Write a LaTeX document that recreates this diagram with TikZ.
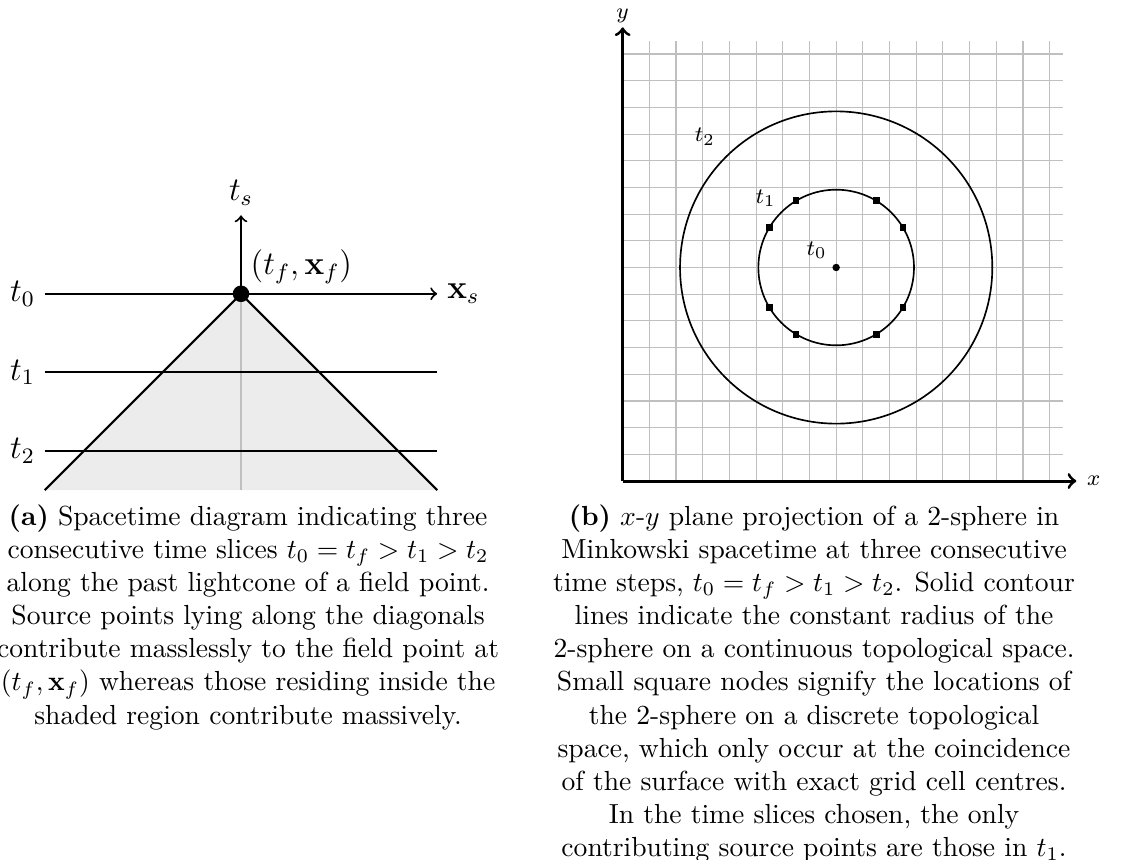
\documentclass[tikz,border=0pt]{standalone}
\usetikzlibrary{positioning}
\tikzset{
  slice/.style={line width=0.75pt},
  biglabel/.style={font=\large},
  smalllabel/.style={font=\footnotesize},
  cellpt/.style={fill, rectangle, inner sep=0pt, minimum size=2.4pt},
  captext/.style={align=center, inner sep=0pt, anchor=north},
}
\begin{document}
\begin{tikzpicture}
  \useasboundingbox (0,0) rectangle (14.306,10.943);
  % (a) lightcone
  \begin{scope}[shift={(3.07,7.2)}]
    \coordinate (fp) at (0,0);
    \coordinate (bl) at (-2.5,-2.5);
    \coordinate (br) at (2.5,-2.5);
    \coordinate (bc) at (0,-2.5);
    \coordinate (tstip) at (0,1);
    \fill[gray!15] (fp) -- (bl) -- (br) -- cycle;
    \draw[gray!50, line width=0.7pt] (fp) -- (bc);
    \foreach \i in {0,1,2} {
      \coordinate (sl\i) at (-2.5,-\i);
      \coordinate (sr\i) at (2.5,-\i);
      \node[biglabel, left] (lab\i) at (sl\i) {$t_\i$};
    }
    \draw[slice,->] (sl0) -- (sr0) node[biglabel, right] (xs) {$\mathbf{x}_s$};
    \draw[slice] (sl1) -- (sr1);
    \draw[slice] (sl2) -- (sr2);
    \draw[slice] (bl) -- (fp) -- (br);
    \draw[slice,->] (fp) -- (tstip) node[biglabel, above] (ts) {$t_s$};
    \node[fill, circle, inner sep=0pt, minimum size=6pt] (fpdot) at (fp) {};
    \node[biglabel, above right=0pt and 0pt of fp] (fplab) {$(t_f, \mathbf{x}_f)$};
  \end{scope}
  % (b) x-y projection
  \begin{scope}[shift={(7.932,4.815)}, x=0.34cm, y=0.34cm]
    \foreach \g in {1,...,16} {
      \draw[gray!50] (\g,0) -- (\g,16.5);
      \draw[gray!50] (0,\g) -- (16.5,\g);
    }
    \coordinate (org) at (0,0);
    \coordinate (xtip) at (17,0);
    \coordinate (ytip) at (0,17);
    \draw[line width=1.1pt,->] (org) -- (xtip) node[smalllabel, right] (xlab) {$x$};
    \draw[line width=1.1pt,->] (org) -- (ytip) node[smalllabel, above, inner sep=1pt] (ylab) {$y$};
    \node[fill, circle, inner sep=0pt, minimum size=2.7pt] (ctr) at (8,8) {};
    \draw[semithick] (ctr) circle ({sqrt(8.5)});
    \draw[semithick] (ctr) circle (5.85);
    \foreach \dx/\dy [count=\k] in {1.5/2.5, -1.5/2.5, 1.5/-2.5, -1.5/-2.5,
        2.5/1.5, -2.5/1.5, 2.5/-1.5, -2.5/-1.5}
      \node[cellpt] (cell\k) at ({8+\dx},{8+\dy}) {};
    \node[smalllabel] (ltwo) at (3.08,12.9) {$t_2$};
    \node[smalllabel] (lone) at (5.36,10.59) {$t_1$};
    \node[smalllabel] (lzero) at (7.27,8.65) {$t_0$};
  \end{scope}
  % captions
  \node[captext] (capa) at (3.16,4.52) {\textbf{(a)} Spacetime diagram indicating three\\
    consecutive time slices $t_0 = t_f > t_1 > t_2$\\
    along the past lightcone of a field point.\\
    Source points lying along the diagonals\\
    contribute masslessly to the field point at\\
    $\left(t_f, \mathbf{x}_f\right)$ whereas those residing inside the\\
    shaded region contribute massively.};
  \node[captext] (capb) at (10.37,4.52) {\textbf{(b)} $x$-$y$ plane projection of a 2-sphere in\\
    Minkowski spacetime at three consecutive\\
    time steps, $t_0 = t_f > t_1 > t_2$. Solid contour\\
    lines indicate the constant radius of the\\
    2-sphere on a continuous topological space.\\
    Small square nodes signify the locations of\\
    the 2-sphere on a discrete topological\\
    space, which only occur at the coincidence\\
    of the surface with exact grid cell centres.\\
    In the time slices chosen, the only\\
    contributing source points are those in $t_1$.};
\end{tikzpicture}
\end{document}
